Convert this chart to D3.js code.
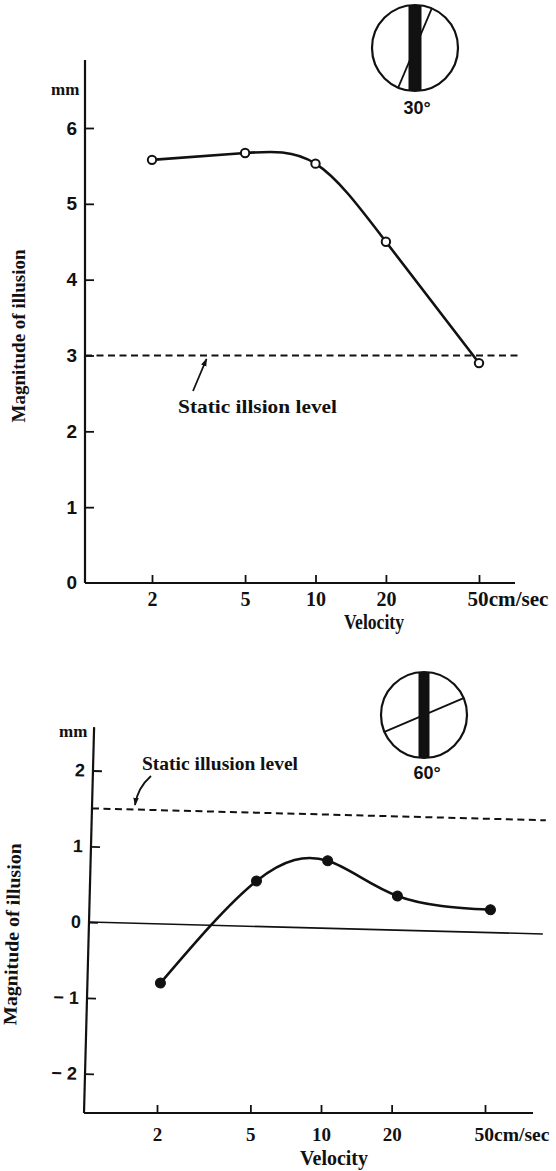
<!DOCTYPE html>
<html><head><meta charset="utf-8">
<script src="https://cdn.jsdelivr.net/npm/d3@7"></script>
<style>html,body{margin:0;padding:0;background:#fff;} svg{display:block}</style>
</head><body>
<script>
// ---------------- data ----------------
const velocities   = [2, 5, 10, 20, 50];
const xTickLabels  = ["2", "5", "10", "20", "50cm/sec"];
const illusion30   = [5.58, 5.67, 5.53, 4.50, 2.90];
const static30     = 3.0;
const yTicks30     = [1, 2, 3, 4, 5, 6];
const yTickLabel0  = "0";
const illusion60   = [-0.78, 0.60, 0.89, 0.45, 0.30];
const static60     = 1.5;
const zeroLevel60  = 0;
const yTicks60     = [-2, -1, 0, 1, 2];
const yLabel       = "Magnitude of illusion";
const xLabel       = "Velocity";
const unitLabel    = "mm";
const staticLabel30 = "Static illsion level";
const staticLabel60 = "Static illusion level";
const angleLabels  = ["30°", "60°"];

// ---------------- setup ----------------
const W = 556, H = 1171;
const ink = "#111";
const serif = "'Liberation Serif','Times New Roman',serif";
const sans = "'Liberation Sans',Arial,sans-serif";
const svg = d3.select("body").append("svg").attr("width", W).attr("height", H);

const defs = svg.append("defs");
defs.append("marker").attr("id", "arrow").attr("viewBox", "0 0 10 10")
  .attr("refX", 9).attr("refY", 5).attr("markerWidth", 8).attr("markerHeight", 8)
  .attr("markerUnits", "userSpaceOnUse").attr("orient", "auto")
  .append("path").attr("d", "M0,1.5 L10,5 L0,8.5 Z").attr("fill", ink);

function panel(o) {
  const x = d3.scaleLog().domain([velocities[0], velocities[velocities.length - 1]]).range([o.x0, o.x1]);
  const y = d3.scaleLinear().domain(o.ydom).range(o.yran);
  const root = svg.append("g");

  // x axis (drawn straight)
  const gx = root.append("g").attr("transform", `translate(0,${o.axisY})`)
    .call(d3.axisBottom(x).tickValues(velocities).tickFormat((d, i) => xTickLabels[i])
      .tickSize(-8).tickSizeOuter(0).tickPadding(o.xPad));
  gx.select(".domain").remove();
  gx.attr("font-size", null);
  gx.selectAll(".tick line").attr("stroke", ink).attr("stroke-width", 1.8);
  gx.selectAll(".tick text").attr("fill", ink).attr("font-family", serif)
    .attr("font-weight", "bold").style("font-size", o.xFont + "px");
  gx.selectAll(".tick text").filter((d, i) => i === velocities.length - 1)
    .attr("text-anchor", "start").attr("x", o.lastDx).attr("textLength", o.lastLen)
    .attr("lengthAdjust", "spacingAndGlyphs");
  root.append("line").attr("x1", o.axisL).attr("x2", o.axisR)
    .attr("y1", o.axisY).attr("y2", o.axisY).attr("stroke", ink).attr("stroke-width", 2.2);
  root.append("text").attr("x", o.velX).attr("y", o.velY).attr("text-anchor", "middle")
    .attr("font-family", serif).attr("font-weight", "bold").style("font-size", o.velFont + "px")
    .attr("textLength", o.velLen).attr("lengthAdjust", "spacingAndGlyphs").attr("fill", ink).text(xLabel);

  // plot layer (possibly tilted like the printed original)
  const g = root.append("g").attr("transform", `rotate(${o.rot},${o.axisL},${o.axisY})`);
  g.append("line").attr("x1", o.axisL).attr("x2", o.axisL).attr("y1", o.axisY).attr("y2", o.axisTop)
    .attr("stroke", ink).attr("stroke-width", 2.2);
  const gy = g.append("g").attr("transform", `translate(${o.axisL},0)`)
    .call(d3.axisLeft(y).tickValues(o.yTicks).tickSize(-9).tickSizeOuter(0).tickPadding(8)
      .tickFormat(d => d < 0 ? "\u2212 " + (-d) : String(d)));
  gy.select(".domain").remove();
  gy.attr("font-size", null);
  gy.selectAll(".tick line").attr("stroke", ink).attr("stroke-width", 1.8);
  gy.selectAll(".tick text").attr("fill", ink).attr("font-family", sans)
    .attr("font-weight", "bold").style("font-size", o.yFont + "px");
  if (o.zeroText) {
    g.append("text").attr("x", o.axisL - 8).attr("y", y(0)).attr("dy", "0.32em")
      .attr("text-anchor", "end").attr("font-family", sans).attr("font-weight", "bold")
      .style("font-size", o.yFont + "px").attr("fill", ink).text(o.zeroText);
  }
  g.append("text").attr("transform", `translate(${o.ylabX},${o.ylabY}) rotate(-90)`)
    .attr("text-anchor", "middle").attr("font-family", serif).attr("font-weight", "bold")
    .style("font-size", "19px").attr("textLength", o.ylabLen).attr("lengthAdjust", "spacingAndGlyphs")
    .attr("fill", ink).text(yLabel);

  if (o.zeroLine !== undefined) {
    g.append("line").attr("x1", o.axisL).attr("x2", o.lineEnd)
      .attr("y1", y(o.zeroLine)).attr("y2", y(o.zeroLine)).attr("stroke", ink).attr("stroke-width", 1.6);
  }
  g.append("line").attr("x1", o.axisL).attr("x2", o.lineEnd)
    .attr("y1", y(o.staticLevel)).attr("y2", y(o.staticLevel))
    .attr("stroke", ink).attr("stroke-width", 2).attr("stroke-dasharray", "7,4.5");

  const pts = velocities.map((v, i) => [x(v), y(o.values[i])]);
  g.append("path").attr("d", d3.line().curve(o.curve)(pts))
    .attr("fill", "none").attr("stroke", ink).attr("stroke-width", 2.6);
  g.selectAll("circle.pt").data(pts).join("circle").attr("class", "pt")
    .attr("cx", d => d[0]).attr("cy", d => d[1]).attr("r", o.filled ? 5 : 4.2)
    .attr("fill", o.filled ? ink : "#fff").attr("stroke", ink).attr("stroke-width", o.filled ? 1 : 2);

  // unit label
  root.append("text").attr("x", o.mmX).attr("y", o.mmY).attr("font-family", serif)
    .attr("font-weight", "bold").style("font-size", "17px").attr("fill", ink).text(unitLabel);
  // static annotation
  root.append("text").attr("x", o.noteX).attr("y", o.noteY).attr("font-family", serif)
    .attr("font-weight", "bold").style("font-size", "19px").attr("textLength", o.noteLen)
    .attr("lengthAdjust", "spacingAndGlyphs").attr("fill", ink).text(o.note);
  root.append("path").attr("d", o.arrowPath).attr("fill", "none").attr("stroke", ink)
    .attr("stroke-width", 1.8).attr("marker-end", "url(#arrow)");

  // stimulus icon
  const ic = o.icon;
  const cid = "clip" + o.id;
  defs.append("clipPath").attr("id", cid).append("circle").attr("cx", ic.cx).attr("cy", ic.cy).attr("r", ic.r);
  const gi = root.append("g");
  const a = ic.tilt * Math.PI / 180;
  gi.append("line").attr("x1", ic.cx - ic.r * Math.sin(a)).attr("y1", ic.cy + ic.r * Math.cos(a))
    .attr("x2", ic.cx + ic.r * Math.sin(a)).attr("y2", ic.cy - ic.r * Math.cos(a))
    .attr("stroke", ink).attr("stroke-width", 1.8).attr("clip-path", `url(#${cid})`);
  gi.append("rect").attr("x", ic.cx - ic.bar / 2).attr("y", ic.cy - ic.r).attr("width", ic.bar)
    .attr("height", 2 * ic.r).attr("fill", ink).attr("clip-path", `url(#${cid})`);
  gi.append("circle").attr("cx", ic.cx).attr("cy", ic.cy).attr("r", ic.r)
    .attr("fill", "none").attr("stroke", ink).attr("stroke-width", 2.2);
  gi.append("text").attr("x", ic.lx).attr("y", ic.ly).attr("text-anchor", "middle")
    .attr("font-family", sans).attr("font-weight", "bold").style("font-size", "18px").attr("fill", ink).text(ic.label);
}

// ---------- top panel: 30° ----------
panel({
  id: "a", x0: 152, x1: 479, ydom: [0, 6], yran: [583, 128],
  axisY: 583, axisL: 85, axisR: 515, axisTop: 60, rot: 0,
  xPad: 9, xFont: 20, lastDx: -12, lastLen: 81,
  velX: 374, velY: 629, velFont: 21, velLen: 60,
  yTicks: yTicks30, yFont: 19, zeroText: yTickLabel0,
  ylabX: 25, ylabY: 336, ylabLen: 173,
  values: illusion30, staticLevel: static30, lineEnd: 520, filled: false,
  curve: d3.curveNatural,
  mmX: 51, mmY: 95,
  note: staticLabel30, noteX: 178, noteY: 413, noteLen: 159,
  arrowPath: "M193,391 L206.5,359",
  icon: { cx: 415, cy: 48, r: 43, bar: 13, tilt: 23, label: angleLabels[0], lx: 417, ly: 114 }
});

// ---------- bottom panel: 60° ----------
panel({
  id: "b", x0: 157, x1: 485, ydom: [-2, 2], yran: [1073.6, 770.4],
  axisY: 1113, axisL: 84, axisR: 533, axisTop: 727, rot: 1.5,
  xPad: 15, xFont: 19, lastDx: -11, lastLen: 75,
  velX: 334, velY: 1165, velFont: 21, velLen: 68,
  yTicks: yTicks60, yFont: 18, zeroText: null,
  ylabX: 14, ylabY: 936, ylabLen: 182,
  values: illusion60, staticLevel: static60, zeroLine: zeroLevel60, lineEnd: 538, filled: true,
  curve: d3.curveNatural,
  mmX: 59, mmY: 737,
  note: staticLabel60, noteX: 142, noteY: 770, noteLen: 156,
  arrowPath: "M151,776 C143,783 137,792 135,805",
  icon: { cx: 424, cy: 715, r: 43, bar: 11, tilt: 67, label: angleLabels[1], lx: 427, ly: 779 }
});
</script>
</body></html>
